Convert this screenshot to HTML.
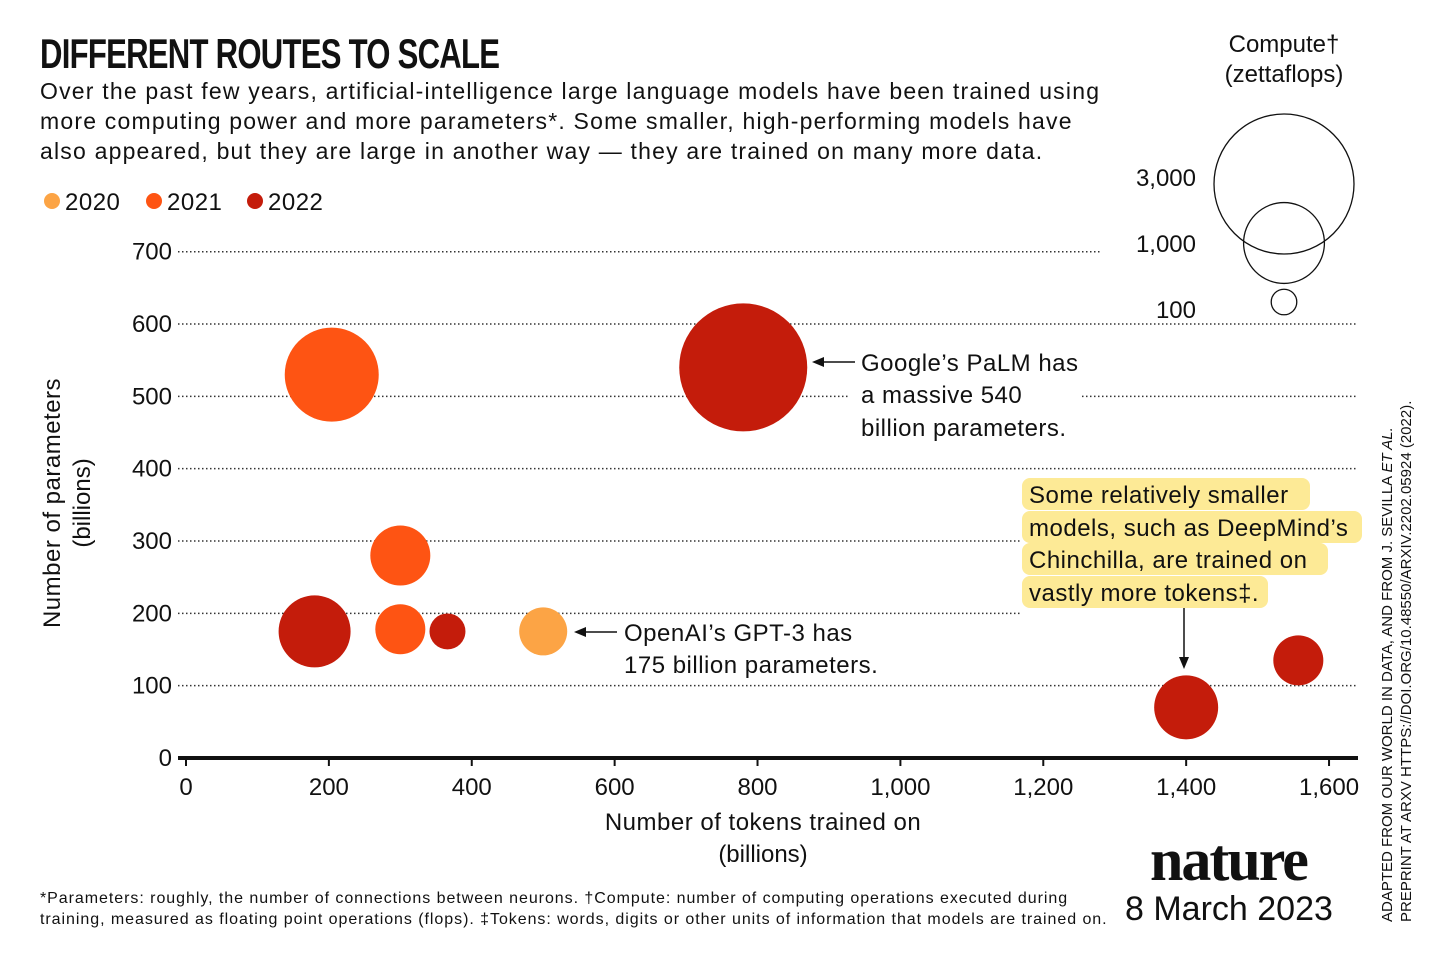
<!DOCTYPE html>
<html><head><meta charset="utf-8">
<style>
html,body{margin:0;padding:0;background:#fff;}
body{width:1456px;height:957px;position:relative;overflow:hidden;font-family:"Liberation Sans",sans-serif;color:#111;}
.abs{position:absolute;}
</style></head>
<body>
<div class="abs" style="left:40px;top:30px;font-size:42px;font-weight:bold;letter-spacing:-1px;transform:scaleX(0.74);transform-origin:left top;white-space:nowrap;">DIFFERENT ROUTES TO SCALE</div>
<div class="abs" style="left:40px;top:76px;font-size:23px;line-height:30px;width:1100px;letter-spacing:1.2px;white-space:nowrap;">Over the past few years, artificial-intelligence large language models have been trained using<br>more computing power and more parameters*. Some smaller, high-performing models have<br>also appeared, but they are large in another way — they are trained on many more data.</div>
<svg class="abs" style="left:0;top:0" width="1456" height="957">
<g id="legend" font-size="24" fill="#111"></g>
<g id="grid"></g>
<g id="bubbles"></g>
<g id="size-legend"></g>
<g id="annot" font-size="24" fill="#111" letter-spacing="0.5"></g>
</svg>
<div class="abs" style="left:40px;top:888px;font-size:16px;line-height:21px;letter-spacing:0.95px;white-space:nowrap;">*Parameters: roughly, the number of connections between neurons. †Compute: number of computing operations executed during<br>training, measured as floating point operations (flops). ‡Tokens: words, digits or other units of information that models are trained on.</div>
<div class="abs" style="left:1150px;top:826px;font-family:'Liberation Serif',serif;font-weight:bold;font-size:60px;letter-spacing:-2px;">nature</div>
<div class="abs" style="left:1125px;top:890px;font-size:34px;">8 March 2023</div>
<div class="abs" style="left:1378px;top:922px;font-size:15px;line-height:19px;transform:rotate(-90deg);transform-origin:left top;white-space:nowrap;">ADAPTED FROM OUR WORLD IN DATA, AND FROM J. SEVILLA <i>ET AL.</i><br>PREPRINT AT ARXV HTTPS://DOI.ORG/10.48550/ARXIV.2202.05924 (2022).</div>
<script>
const xTicks=[0,200,400,600,800,1000,1200,1400,1600];
const xTickLabels=["0","200","400","600","800","1,000","1,200","1,400","1,600"];
const yTicks=[0,100,200,300,400,500,600,700];
const tokens=[204,780,300,180,300,366,500,1400,1557];
const params=[530,540,280,175,178,175,175,70,135];
const compute=[1352,2508,551,793,383,198,353,627,383];
const years=[2021,2022,2021,2022,2021,2022,2020,2022,2022];
const yearList=[2020,2021,2022];
const colors={2020:"#fca445",2021:"#fe5413",2022:"#c41c0b"};
const sizeVals=[3000,1000,100];
const sizeLabels=["3,000","1,000","100"];

const NS="http://www.w3.org/2000/svg";
function mk(tag,attrs,parent,text){const e=document.createElementNS(NS,tag);for(const k in attrs)e.setAttribute(k,attrs[k]);if(text!==undefined)e.textContent=text;parent.appendChild(e);return e;}
const X=v=>186+v*0.7144;
const Y=v=>758-v*0.7233;
const R=c=>70*Math.sqrt(c/3000);

const grid=document.getElementById('grid');
const gridEnds={0:1358,100:1358,200:1020,300:1020,400:1358,500:1358,600:1358,700:1100};
yTicks.forEach(t=>{
  if(t>0){
    if(t===500){
      const l1=mk('line',{x1:178,x2:848,y1:Y(t),y2:Y(t),stroke:'#333','stroke-width':1.5,'stroke-dasharray':'1.5 2.5'},grid);
      
      
      const l2=mk('line',{x1:1082,x2:1358,y1:Y(t),y2:Y(t),stroke:'#333','stroke-width':1.5,'stroke-dasharray':'1.5 2.5'},grid);
      
      
    } else {
      const l=mk('line',{x1:178,x2:gridEnds[t],y1:Y(t),y2:Y(t),stroke:'#333','stroke-width':1.5,'stroke-dasharray':'1.5 2.5'},grid);
      
      
    }
  }
  const tl=mk('text',{x:172,y:Y(t)+8,'text-anchor':'end','font-size':24,fill:'#111'},grid,String(t));
  
  
});
const ax=mk('line',{x1:178,x2:1358,y1:Y(0),y2:Y(0),stroke:'#111','stroke-width':4},grid);


xTicks.forEach((t,i)=>{
  const tk=mk('line',{x1:X(t),x2:X(t),y1:Y(0),y2:Y(0)+8,stroke:'#111','stroke-width':2},grid);
  
  
  const tl=mk('text',{x:X(t),y:795,'text-anchor':'middle','font-size':24,fill:'#111'},grid,xTickLabels[i]);
  
  
});
const xt=mk('text',{x:763,y:830,'text-anchor':'middle','font-size':24,fill:'#111','letter-spacing':0.5},grid,'Number of tokens trained on');


const xt2=mk('text',{x:763,y:862,'text-anchor':'middle','font-size':24,fill:'#111'},grid,'(billions)');


const yt=mk('text',{x:0,y:0,'text-anchor':'middle','font-size':24,fill:'#111','letter-spacing':0.5,transform:'translate(60,503) rotate(-90)'},grid,'Number of parameters');


const yt2=mk('text',{x:0,y:0,'text-anchor':'middle','font-size':24,fill:'#111',transform:'translate(90,503) rotate(-90)'},grid,'(billions)');



const lg=document.getElementById('legend');
const lx=[52,154,255];
yearList.forEach((y,i)=>{
  const c=mk('circle',{cx:lx[i],cy:201,r:8,fill:colors[y]},lg);
  
  
  const t=mk('text',{x:lx[i]+13,y:210,'letter-spacing':0.5},lg,String(y));
  
  
});

const an=document.getElementById('annot');
const hl=[[1022,478,288],[1022,511,340],[1022,543,306],[1022,576,246]];
hl.forEach(h=>{const r=mk('rect',{x:h[0],y:h[1],width:h[2],height:32,rx:8,fill:'#fdea96'},an);

});

const bg=document.getElementById('bubbles');
tokens.forEach((t,i)=>{
  const c=mk('circle',{cx:X(t),cy:Y(params[i]),r:R(compute[i]),fill:colors[years[i]]},bg);
  
  
});

const sl=document.getElementById('size-legend');
const st=mk('text',{x:1284,y:52,'text-anchor':'middle','font-size':24,fill:'#111'},sl,'Compute†');


const st2=mk('text',{x:1284,y:82,'text-anchor':'middle','font-size':24,fill:'#111'},sl,'(zettaflops)');


const sy=[184,243,302];
const ly=[186,252,318];
sizeVals.forEach((v,i)=>{
  const c=mk('circle',{cx:1284,cy:sy[i],r:R(v),fill:'none',stroke:'#111','stroke-width':1.3},sl);
  
  
  const t=mk('text',{x:1196,y:ly[i],'text-anchor':'end','font-size':24,fill:'#111'},sl,sizeLabels[i]);
  
  
});

function txt(x,y,s,name){const t=mk('text',{x:x,y:y},an,s);}
txt(861,371,'Google’s PaLM has','palm-annotation');
txt(861,403,'a massive 540','palm-annotation');
txt(861,436,'billion parameters.','palm-annotation');
txt(624,641,'OpenAI’s GPT-3 has','gpt3-annotation');
txt(624,673,'175 billion parameters.','gpt3-annotation');
txt(1029,503,'Some relatively smaller','chinchilla-annotation');
txt(1029,536,'models, such as DeepMind’s','chinchilla-annotation');
txt(1029,568,'Chinchilla, are trained on','chinchilla-annotation');
txt(1029,601,'vastly more tokens‡.','chinchilla-annotation');
function arrow(x1,y1,x2,y2,name){const l=mk('line',{x1:x1,y1:y1,x2:x2,y2:y2,stroke:'#111','stroke-width':1.5},an);}
arrow(855,362,816,362,'palm-arrow');
mk('path',{d:'M812 362 L824 357 L824 367 Z',fill:'#111'},an);
arrow(617,632,578,632,'gpt3-arrow');
mk('path',{d:'M574 632 L586 627 L586 637 Z',fill:'#111'},an);
arrow(1184,608,1184,664,'chinchilla-arrow');
mk('path',{d:'M1184 669 L1179 657 L1189 657 Z',fill:'#111'},an);
</script>
</body></html>
